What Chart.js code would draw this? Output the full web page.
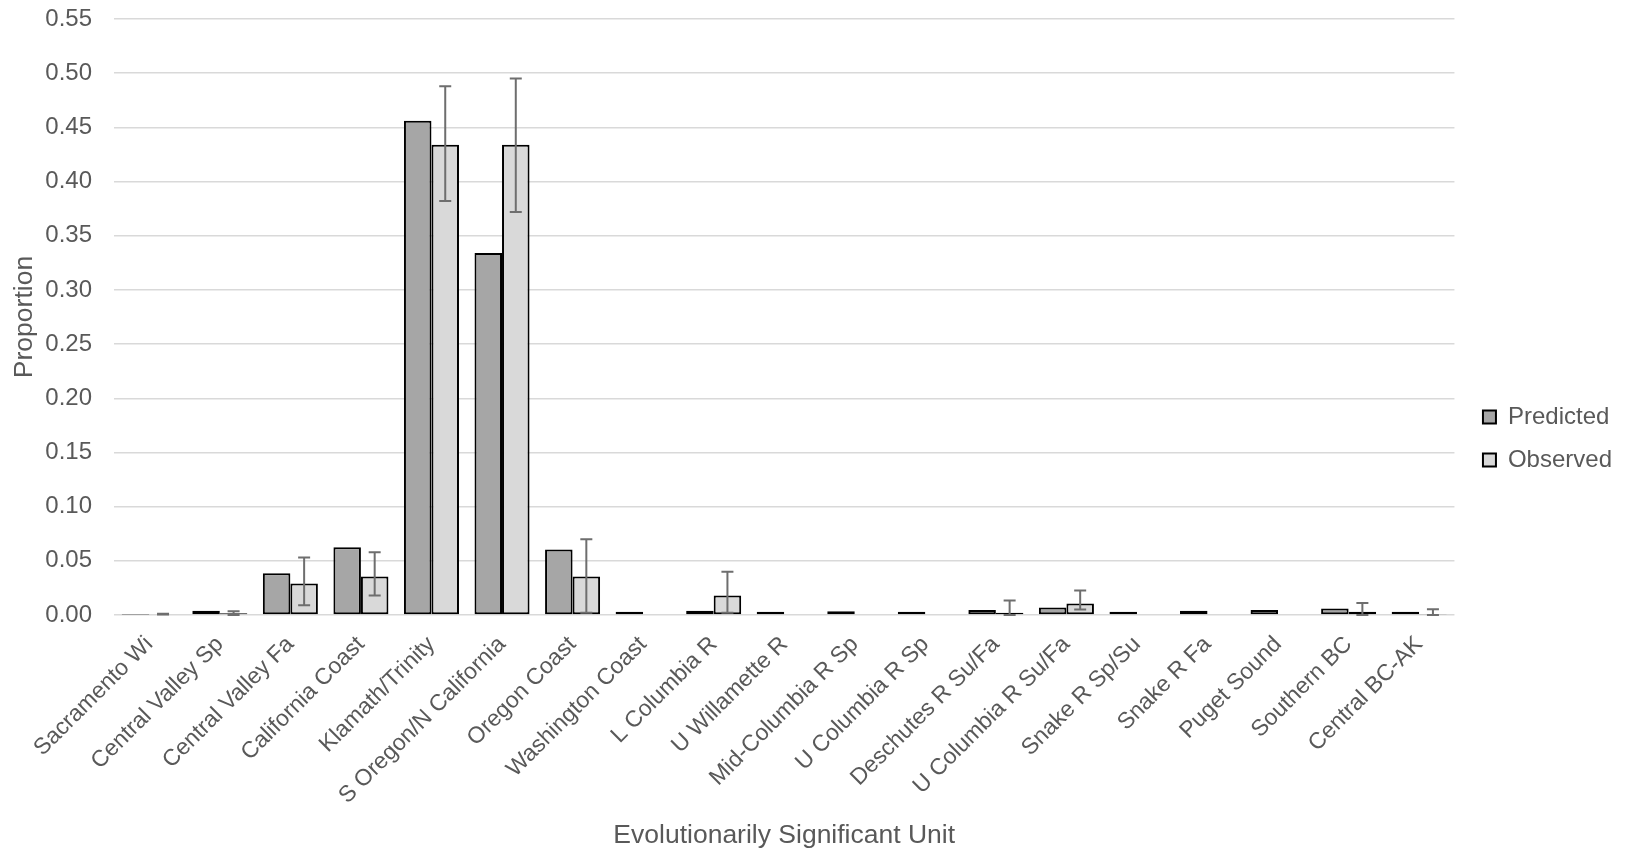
<!DOCTYPE html>
<html>
<head>
<meta charset="utf-8">
<script src="https://cdn.jsdelivr.net/npm/chart.js@4"></script>
<style>
  body { margin: 0; background: #fff; }
  #wrap { width: 1628px; height: 852px; position: relative; }
</style>
</head>
<body>
<div id="wrap"><canvas id="esuChart"></canvas></div>
<script>
// ESU categories
const esuLabels = [
    'Sacramento Wi', 'Central Valley Sp', 'Central Valley Fa', 'California Coast',
    'Klamath/Trinity', 'S Oregon/N California', 'Oregon Coast', 'Washington Coast',
    'L Columbia R', 'U Willamette R', 'Mid-Columbia R Sp', 'U Columbia R Sp',
    'Deschutes R Su/Fa', 'U Columbia R Su/Fa', 'Snake R Sp/Su', 'Snake R Fa',
    'Puget Sound', 'Southern BC', 'Central BC-AK'
];

const predicted = [0.0003, 0.004, 0.0385, 0.0625, 0.456, 0.334, 0.0605, 0.003, 0.004, 0.003,
    0.0035, 0.003, 0.0045, 0.007, 0.003, 0.004, 0.0045, 0.006, 0.003];

const observed = [0.0008, 0.0015, 0.029, 0.0355, 0.434, 0.434, 0.0355, 0.0008, 0.018, 0.0008,
    0.0008, 0, 0.002, 0.0105, 0.0008, 0.0008, 0.0008, 0.003, 0.001];

// error bar limits for observed (null = no bar drawn)
const obsLower = [0.0004, 0, 0.009, 0.018, 0.382, 0.372, 0.002, null, 0.002, null,
    null, null, 0, 0.005, null, null, null, 0, 0];
const obsUpper = [0.0012, 0.0035, 0.053, 0.058, 0.488, 0.495, 0.070, null, 0.040, null,
    null, null, 0.0133, 0.0225, null, null, null, 0.011, 0.0053];

const yTicks = { min: 0, max: 0.55, step: 0.05 };

const textColor = '#595959';
const fontFamily = '"Liberation Sans", Arial, sans-serif';

// draws the observed error bars on top of the bars
const errorBars = {
    id: 'errorBars',
    afterDatasetsDraw(chart) {
        const meta = chart.getDatasetMeta(1);
        const yScale = chart.scales.y;
        const ctx = chart.ctx;
        ctx.save();
        ctx.strokeStyle = '#6e6e6e';
        ctx.lineWidth = 2;
        meta.data.forEach((bar, i) => {
            if (obsUpper[i] == null) return;
            const top = yScale.getPixelForValue(obsUpper[i]);
            const bottom = yScale.getPixelForValue(obsLower[i]);
            const cap = 6;
            ctx.beginPath();
            ctx.moveTo(bar.x, top);
            ctx.lineTo(bar.x, bottom);
            ctx.moveTo(bar.x - cap, top);
            ctx.lineTo(bar.x + cap, top);
            ctx.moveTo(bar.x - cap, bottom);
            ctx.lineTo(bar.x + cap, bottom);
            ctx.stroke();
        });
        ctx.restore();
    }
};

new Chart(document.getElementById('esuChart'), {
    type: 'bar',
    data: {
        labels: esuLabels,
        datasets: [{
            label: 'Predicted',
            data: predicted,
            backgroundColor: '#a6a6a6',
            borderColor: '#000000',
            borderWidth: 2,
            borderSkipped: false
        }, {
            label: 'Observed',
            data: observed,
            backgroundColor: '#d9d9d9',
            borderColor: '#000000',
            borderWidth: 2,
            borderSkipped: false
        }]
    },
    options: {
        responsive: true,
        maintainAspectRatio: false,
        animation: false,
        categoryPercentage: 0.78,
        barPercentage: 1,
        layout: { padding: { top: 19, right: 6, bottom: 0, left: 0 } },
        plugins: {
            tooltip: { enabled: false },
            legend: {
                position: 'right',
                // blank title only pushes the items down a little
                title: { display: true, text: '', font: { size: 5 }, padding: 0 },
                labels: {
                    boxWidth: 13,
                    boxHeight: 13,
                    padding: 19,
                    color: textColor,
                    font: { family: fontFamily, size: 24 }
                }
            }
        },
        scales: {
            x: {
                grid: { display: false },
                border: { display: false },
                ticks: {
                    color: textColor,
                    font: { family: fontFamily, size: 23 },
                    maxRotation: 45,
                    minRotation: 45,
                    padding: 8,
                    autoSkip: false
                },
                title: {
                    display: true,
                    text: 'Evolutionarily Significant Unit',
                    color: textColor,
                    font: { family: fontFamily, size: 26.5 },
                    padding: { top: 4, bottom: 0 }
                },
                afterFit(scale) { scale.height = 237; }
            },
            y: {
                min: yTicks.min,
                max: yTicks.max,
                grid: { color: '#d9d9d9', lineWidth: 1.5, drawTicks: false },
                border: { display: false },
                ticks: {
                    stepSize: yTicks.step,
                    color: textColor,
                    padding: 22,
                    font: { family: fontFamily, size: 24 },
                    callback: v => v.toFixed(2)
                },
                title: {
                    display: true,
                    text: 'Proportion',
                    color: textColor,
                    font: { family: fontFamily, size: 26.5 },
                    padding: { top: 9, bottom: 0 }
                },
                afterFit(scale) {
                    scale.width = 114;
                    scale.paddingTop = 0;
                    scale.paddingBottom = 0;
                }
            },
            // empty spacer between plot and legend
            gap: {
                position: 'right',
                grid: { display: false, drawTicks: false },
                border: { display: false },
                ticks: { display: false },
                afterFit(scale) { scale.width = 9.5; }
            }
        }
    },
    plugins: [errorBars]
});
</script>
</body>
</html>
